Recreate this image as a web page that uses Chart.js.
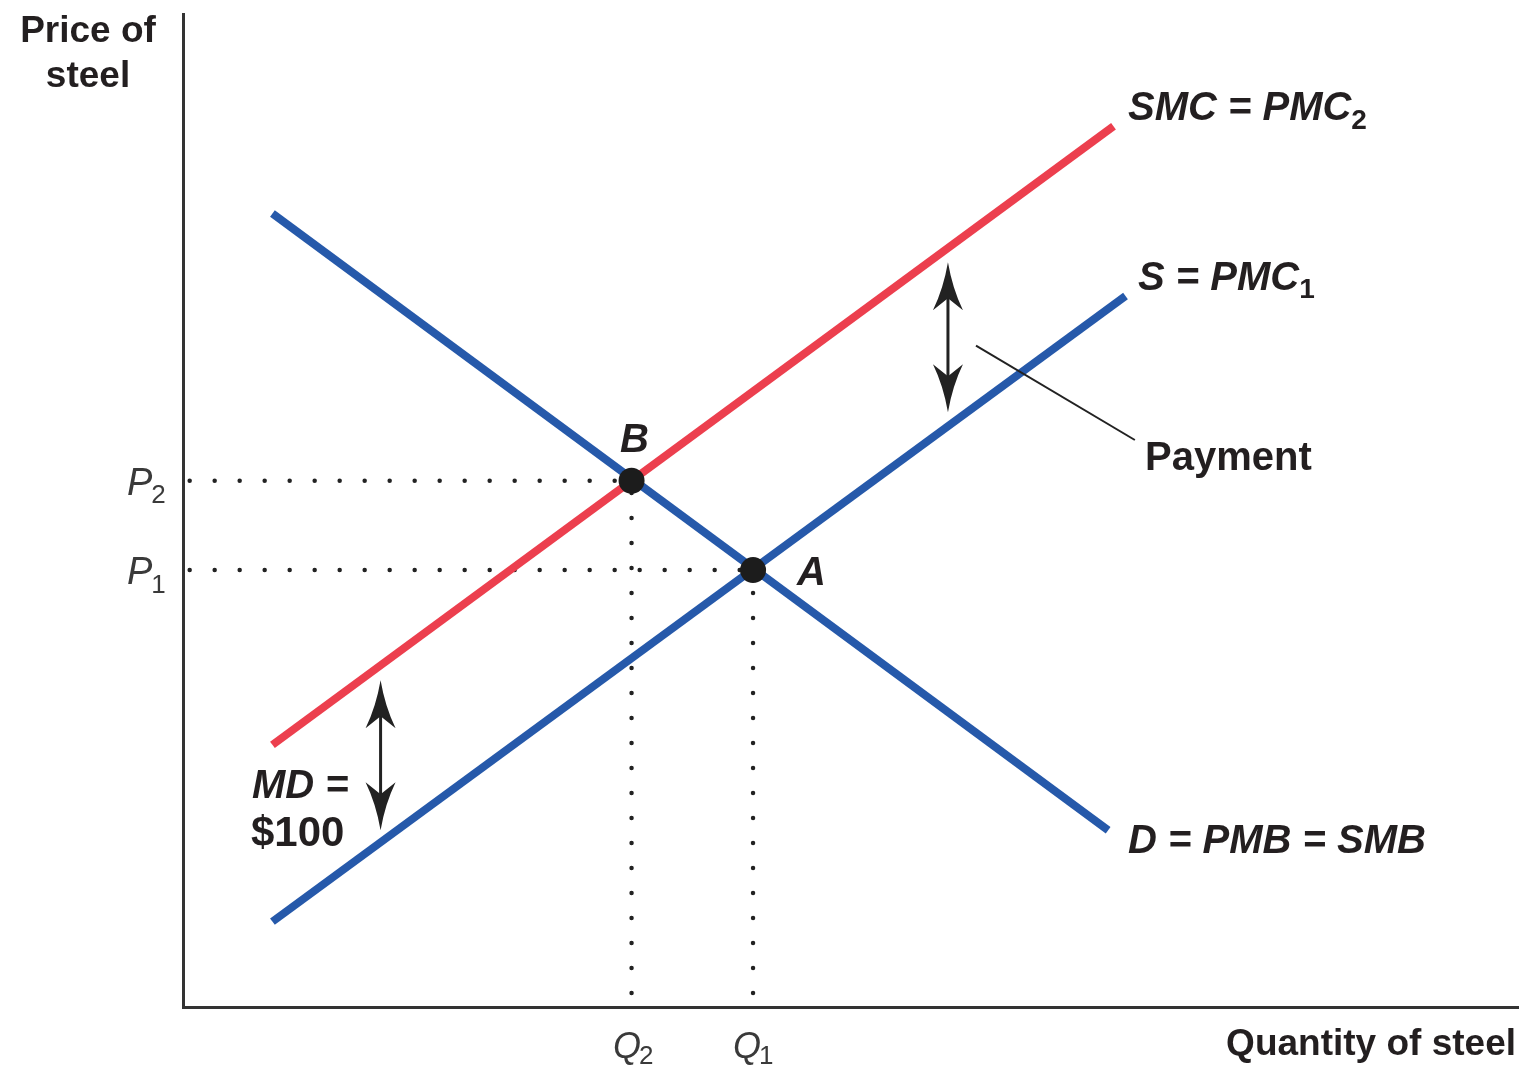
<!DOCTYPE html>
<html>
<head>
<meta charset="utf-8">
<script src="https://cdn.jsdelivr.net/npm/chart.js@4.4.0/dist/chart.umd.min.js"></script>
<style>
  html, body { margin: 0; padding: 0; background: #fff; }
  #wrap { width: 1522px; height: 1068px; }
</style>
</head>
<body>
<div id="wrap"><canvas id="chart" width="1522" height="1068"></canvas></div>
<script>
// curves, in quantity / price units (both axes run 0..100)
const smcLine = [{x: 6.7, y: 26.4}, {x: 69.7, y: 88.7}];
const supplyLine = [{x: 6.7, y: 8.6}, {x: 70.6, y: 71.6}];
const demandLine = [{x: 6.7, y: 79.9}, {x: 69.3, y: 17.8}];

// equilibria
const pointB = {x: 33.6, y: 53.0};
const pointA = {x: 42.7, y: 44.0};

// double arrows showing the gap between the two cost curves
const arrows = [
  {x: 57.3, y1: 75.0, y2: 59.9},
  {x: 14.8, y1: 32.9, y2: 17.8}
];

// leader line to the "Payment" label
const paymentLeader = [{x: 59.4, y: 66.6}, {x: 71.3, y: 57.1}];

// where the dotted guides stop at the axes
const guideStartX = 0.5;
const guideStartY = 1.4;

const RED = '#ec3f4e';
const BLUE = '#2659aa';
const INK = '#222';
const FONT = '"Liberation Sans", Arial, sans-serif';

function dotted(points) {
  return {
    data: points,
    showLine: true,
    borderColor: INK,
    borderWidth: 4.5,
    borderDash: [0, 25],
    borderCapStyle: 'round',
    pointRadius: 0
  };
}

function curve(points, color) {
  return {
    data: points,
    showLine: true,
    borderColor: color,
    borderWidth: 8,
    borderCapStyle: 'butt',
    pointRadius: 0
  };
}

function arrowHead(ctx, x, y, s) {
  // s = 1 tip on top, s = -1 tip at the bottom
  const L = 48, W = 15, N = 36;
  ctx.beginPath();
  ctx.moveTo(x, y);
  ctx.quadraticCurveTo(x + W * 0.3, y + s * L * 0.55, x + W, y + s * L);
  ctx.lineTo(x, y + s * N);
  ctx.lineTo(x - W, y + s * L);
  ctx.quadraticCurveTo(x - W * 0.3, y + s * L * 0.55, x, y);
  ctx.closePath();
  ctx.fill();
}

const arrowPlugin = {
  id: 'arrows',
  afterDatasetsDraw(chart) {
    const {ctx, scales: {x, y}} = chart;
    ctx.save();
    ctx.fillStyle = INK;
    ctx.strokeStyle = INK;
    ctx.lineWidth = 3;
    arrows.forEach(a => {
      const px = x.getPixelForValue(a.x);
      const top = y.getPixelForValue(a.y1);
      const bot = y.getPixelForValue(a.y2);
      ctx.beginPath();
      ctx.moveTo(px, top + 30);
      ctx.lineTo(px, bot - 30);
      ctx.stroke();
      arrowHead(ctx, px, top, 1);
      arrowHead(ctx, px, bot, -1);
    });
    ctx.restore();
  }
};

function rich(ctx, x, y, parts) {
  let cx = x;
  parts.forEach(p => {
    ctx.font = p.f;
    ctx.fillText(p.t, cx, y + (p.dy || 0));
    cx += ctx.measureText(p.t).width + (p.gap || 0);
  });
}

const BI = 'italic bold 40px ' + FONT;
const BD = 'bold 40px ' + FONT;
const SUB = 'bold 28px ' + FONT;
const AX = 'bold 37px ' + FONT;
const LI = 'italic 38px ' + FONT;
const LQ = 'italic 36px ' + FONT;
const LSUB = '26px ' + FONT;

const labelPlugin = {
  id: 'labels',
  afterDraw(chart) {
    const ctx = chart.ctx;
    ctx.save();
    ctx.fillStyle = '#231f20';
    ctx.textBaseline = 'alphabetic';

    ctx.textAlign = 'center';
    ctx.font = AX;
    ctx.fillText('Price of', 88, 42);
    ctx.fillText('steel', 88, 87);
    ctx.textAlign = 'right';
    ctx.fillText('Quantity of steel', 1516, 1055);

    ctx.textAlign = 'left';
    rich(ctx, 1128, 120, [{t: 'SMC = PMC', f: BI}, {t: '2', f: SUB, dy: 9}]);
    rich(ctx, 1138, 290, [{t: 'S = PMC', f: BI}, {t: '1', f: SUB, dy: 8}]);
    rich(ctx, 1128, 853, [{t: 'D = PMB = SMB', f: BI}]);
    ctx.font = BD;
    ctx.fillText('Payment', 1145, 470);
    ctx.font = BI;
    ctx.fillText('B', 620, 452);
    ctx.fillText('A', 797, 585);
    ctx.fillText('MD =', 252, 798);
    ctx.font = 'bold 42px ' + FONT;
    ctx.fillText('$100', 251, 846);

    ctx.fillStyle = '#3a3a3a';
    rich(ctx, 127, 495, [{t: 'P', f: LI, gap: -1}, {t: '2', f: LSUB, dy: 8}]);
    rich(ctx, 127, 584, [{t: 'P', f: LI, gap: -1}, {t: '1', f: LSUB, dy: 9}]);
    rich(ctx, 613, 1058, [{t: 'Q', f: LQ, gap: -2}, {t: '2', f: LSUB, dy: 6}]);
    rich(ctx, 733, 1058, [{t: 'Q', f: LQ, gap: -2}, {t: '1', f: LSUB, dy: 6}]);
    ctx.restore();
  }
};

new Chart(document.getElementById('chart'), {
  type: 'scatter',
  data: {
    datasets: [
      {
        data: [pointB, pointA],
        pointRadius: 13,
        pointBackgroundColor: '#1c1c1c',
        pointBorderWidth: 0
      },
      {
        data: paymentLeader,
        showLine: true,
        borderColor: INK,
        borderWidth: 2,
        pointRadius: 0
      },
      curve(demandLine, BLUE),
      curve(smcLine, RED),
      curve(supplyLine, BLUE),
      dotted([{x: guideStartX, y: pointB.y}, pointB]),
      dotted([{x: guideStartX, y: pointA.y}, pointA]),
      dotted([{x: pointB.x, y: guideStartY}, pointB]),
      dotted([{x: pointA.x, y: guideStartY}, pointA])
    ]
  },
  options: {
    responsive: false,
    animation: false,
    events: [],
    layout: { autoPadding: false, padding: { left: 183, right: 4, top: 14, bottom: 61 } },
    plugins: { legend: { display: false }, tooltip: { enabled: false } },
    scales: {
      x: {
        type: 'linear', min: 0, max: 100,
        ticks: { display: false },
        grid: { display: false },
        border: { display: true, color: '#333', width: 3 },
        afterFit: s => { s.height = 0; }
      },
      y: {
        type: 'linear', min: 0, max: 100,
        ticks: { display: false },
        grid: { display: false },
        border: { display: true, color: '#333', width: 3 },
        afterFit: s => { s.width = 0; }
      }
    }
  },
  plugins: [arrowPlugin, labelPlugin]
});
</script>
</body>
</html>
